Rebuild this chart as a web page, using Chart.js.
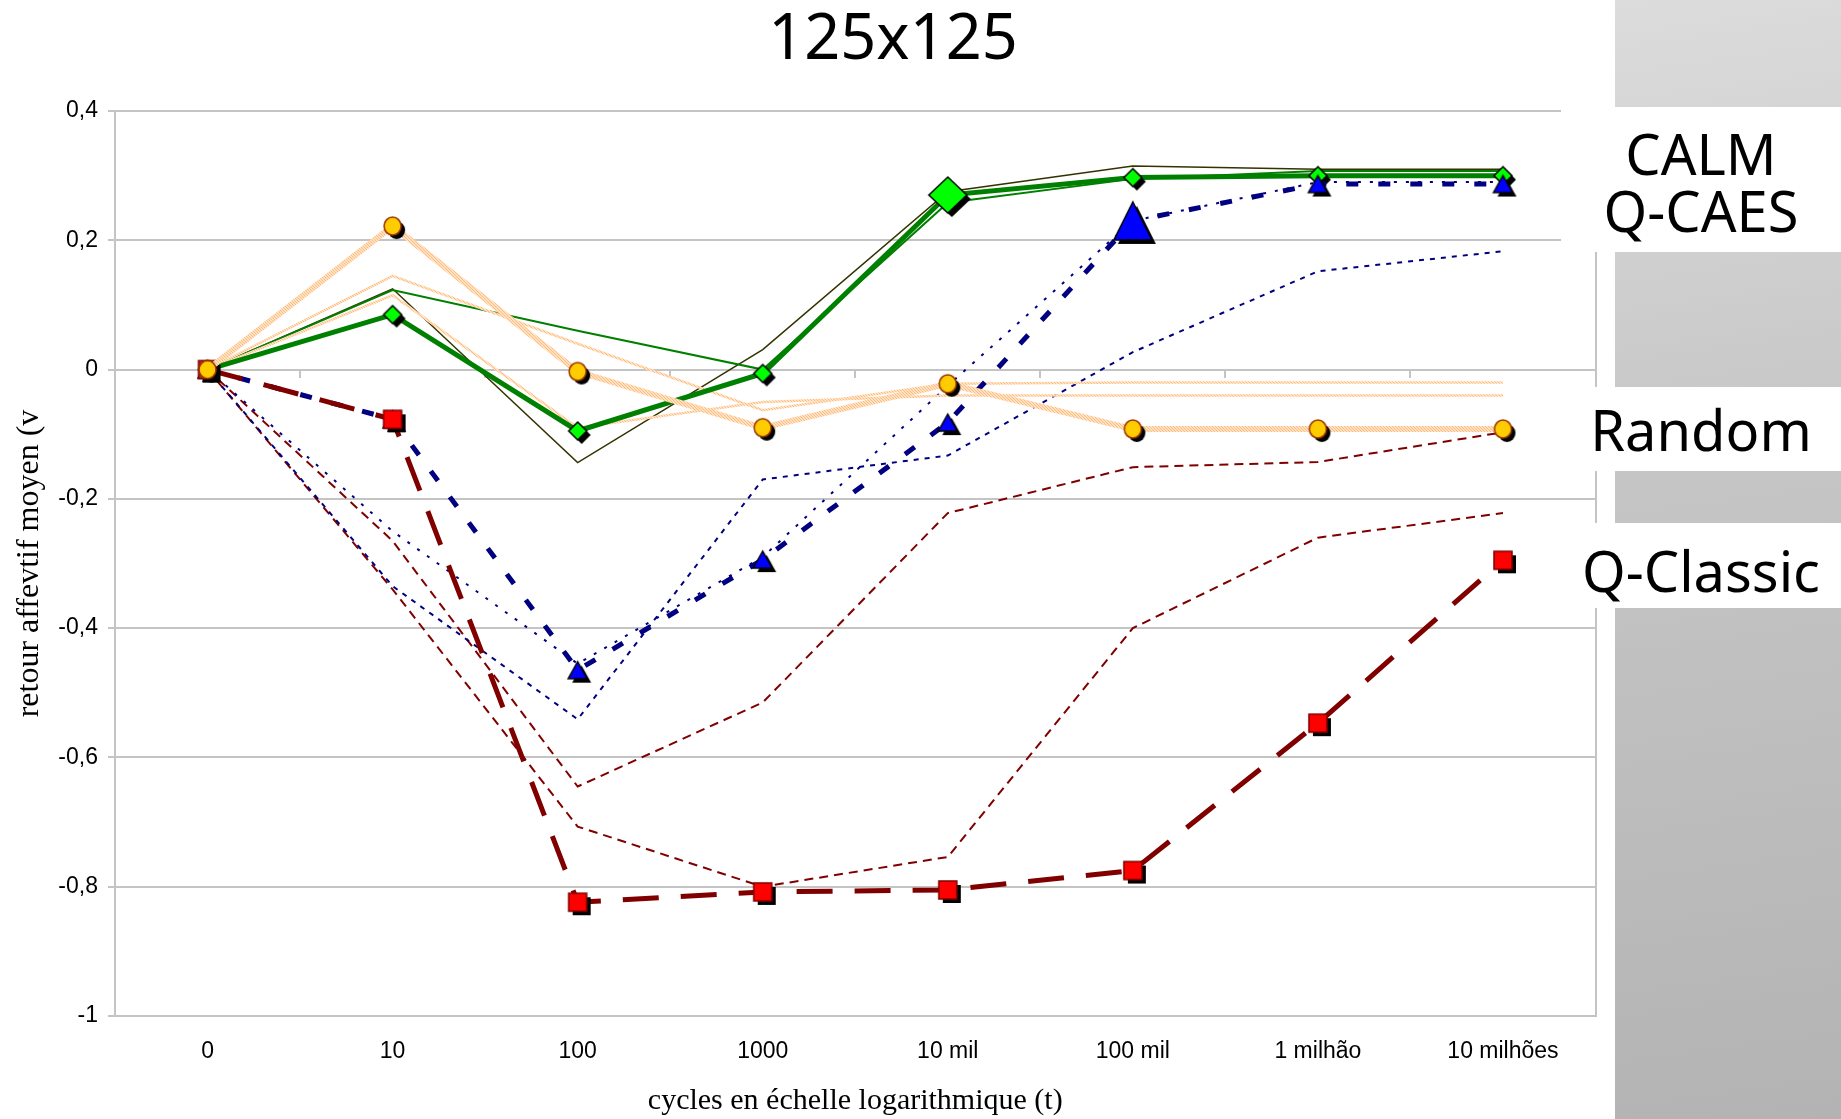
<!DOCTYPE html>
<html>
<head>
<meta charset="utf-8">
<script src="https://cdn.jsdelivr.net/npm/chart.js@4.4.1/dist/chart.umd.min.js"></script>
<style>
  html, body { margin: 0; padding: 0; background: #fff; }
  #wrap { position: relative; width: 1841px; height: 1119px; overflow: hidden; }
  #chart { position: absolute; left: 0; top: 0; }
  .panel { position: absolute; left: 1615px; top: 0; width: 226px; height: 1119px;
           background: linear-gradient(172deg, #dcdcdc 0%, #c6c6c6 40%, #b3b3b3 100%); }
  .box { position: absolute; background: #fff; }
  .lbl { position: absolute; left: 1561px; width: 280px; text-align: center;
         font-family: 'Noto Sans', sans-serif; font-size: 56px; line-height: 56px; color: #000; }
</style>
</head>
<body>
<div id="wrap">
  <canvas id="chart" width="1786" height="1119"></canvas>
  <div class="panel"></div>
  <div class="box" style="left:1561px;top:107px;width:280px;height:145px"></div>
  <div class="box" style="left:1590px;top:387px;width:251px;height:84px"></div>
  <div class="box" style="left:1580px;top:523px;width:261px;height:85px"></div>
  <div class="lbl" style="top:125px">CALM</div>
  <div class="lbl" style="top:182px">Q-CAES</div>
  <div class="lbl" style="top:401px">Random</div>
  <div class="lbl" style="top:542px">Q-Classic</div>
</div>
<script>
const categories = ['0', '10', '100', '1000', '10 mil', '100 mil', '1 milhão', '10 milhões'];
const yTickLabels = ['-1', '-0,8', '-0,6', '-0,4', '-0,2', '0', '0,2', '0,4'];

// CALM (green)
const calmMain = [0, 0.085, -0.095, -0.006, 0.27, 0.297, 0.30, 0.30];
const calmRunA = [0, 0.123, 0.06, 0.0, 0.258, 0.295, 0.307, 0.307];
const calmRunB = [0, 0.125, -0.144, 0.031, 0.275, 0.315, 0.31, 0.31];

// Q-CAES (blue)
const qcaesMain = [0, -0.077, -0.465, -0.294, -0.082, 0.23, 0.287, 0.287];
const qcaesRunA = [0, -0.25, -0.455, -0.29, -0.025, 0.23, 0.29, 0.29];
const qcaesRunB = [0, -0.335, -0.541, -0.17, -0.133, 0.027, 0.152, 0.183];

// Q-Classic (red)
const qclassicMain = [0, -0.077, -0.824, -0.808, -0.805, -0.775, -0.547, -0.295];
const qclassicRunA = [0, -0.265, -0.645, -0.515, -0.222, -0.151, -0.143, -0.097];
const qclassicRunB = [0, -0.34, -0.707, -0.80, -0.754, -0.40, -0.26, -0.222];

// Random (orange)
const randomMain = [0, 0.222, -0.003, -0.09, -0.022, -0.092, -0.092, -0.092];
const randomRunA = [0, 0.145, 0.04, -0.063, -0.022, -0.02, -0.02, -0.02];
const randomRunB = [0, 0.115, -0.09, -0.05, -0.04, -0.04, -0.04, -0.04];

// marker with a black drop shadow, drawn into a small canvas
function marker(shape, w, h, fill, stroke) {
    const off = 4, pad = 2;
    const c = document.createElement('canvas');
    c.width = Math.ceil(w + 2 * (off + pad));
    c.height = Math.ceil(h + 2 * (off + pad));
    const g = c.getContext('2d');
    const cx = c.width / 2, cy = c.height / 2;
    function path(x, y) {
        g.beginPath();
        if (shape === 'diamond') {
            g.moveTo(x, y - h / 2); g.lineTo(x + w / 2, y); g.lineTo(x, y + h / 2); g.lineTo(x - w / 2, y);
            g.closePath();
        } else if (shape === 'triangle') {
            g.moveTo(x, y - h / 2); g.lineTo(x + w / 2, y + h / 2); g.lineTo(x - w / 2, y + h / 2);
            g.closePath();
        } else if (shape === 'square') {
            g.rect(x - w / 2, y - h / 2, w, h);
        } else {
            g.ellipse(x, y, w / 2, h / 2, 0, 0, Math.PI * 2);
        }
    }
    path(cx + off, cy + off);
    g.fillStyle = '#000';
    g.fill();
    path(cx, cy);
    g.fillStyle = fill;
    g.fill();
    g.lineWidth = 1.5;
    g.strokeStyle = stroke;
    g.stroke();
    return c;
}

const diamond = marker('diamond', 18, 18, '#00ff00', '#000');
const bigDiamond = marker('diamond', 38, 36, '#00ff00', '#000');
const triangle = marker('triangle', 19, 17, '#0000ff', '#000');
const bigTriangle = marker('triangle', 38, 38, '#0000ff', '#000');
const square = marker('square', 18, 18, '#ff0000', '#800000');
const darkSquare = marker('square', 18, 18, '#b03020', '#800000');
const circle = marker('circle', 17, 18, '#ffcc00', '#993300');

const ctx = document.getElementById('chart').getContext('2d');

// speckled light orange stroke
function orangePattern() {
    const c = document.createElement('canvas');
    c.width = 3; c.height = 3;
    const g = c.getContext('2d');
    g.fillStyle = '#ffe2c2';
    g.fillRect(0, 0, 3, 3);
    g.fillStyle = '#ffbb80';
    g.fillRect(0, 0, 1, 1);
    g.fillRect(1, 1, 1, 1);
    g.fillRect(2, 2, 1, 1);
    return ctx.createPattern(c, 'repeat');
}
const orange = orangePattern();

const thin = { pointRadius: 0, tension: 0, borderCapStyle: 'butt' };

const data = {
    labels: categories,
    datasets: [
        {
            label: 'Random', data: randomMain, borderColor: orange, borderWidth: 6,
            pointStyle: circle, pointRadius: 6, tension: 0
        },
        {
            label: 'Q-Classic', data: qclassicMain, borderColor: '#800000', borderWidth: 5,
            borderDash: [36, 22], borderCapStyle: 'butt',
            pointStyle: [darkSquare, square, square, square, square, square, square, square],
            pointRadius: 6, tension: 0
        },
        {
            label: 'Q-CAES', data: qcaesMain, borderColor: '#000080', borderWidth: 5,
            borderDash: [12, 20], borderCapStyle: 'butt',
            pointStyle: [triangle, triangle, triangle, triangle, triangle, bigTriangle, triangle, triangle],
            pointRadius: 6, tension: 0
        },
        {
            label: 'CALM', data: calmMain, borderColor: '#008000', borderWidth: 5,
            pointStyle: [diamond, diamond, diamond, diamond, bigDiamond, diamond, diamond, diamond],
            pointRadius: 6, tension: 0
        },
        Object.assign({ data: randomRunA, borderColor: orange, borderWidth: 2.5 }, thin),
        Object.assign({ data: randomRunB, borderColor: orange, borderWidth: 2.5 }, thin),
        Object.assign({ data: calmRunA, borderColor: '#008000', borderWidth: 2 }, thin),
        Object.assign({ data: calmRunB, borderColor: '#333300', borderWidth: 1.5 }, thin),
        Object.assign({ data: qcaesRunA, borderColor: '#000080', borderWidth: 2, borderDash: [3, 9] }, thin),
        Object.assign({ data: qcaesRunB, borderColor: '#000080', borderWidth: 2, borderDash: [5, 6] }, thin),
        Object.assign({ data: qclassicRunA, borderColor: '#800000', borderWidth: 2, borderDash: [9, 6] }, thin),
        Object.assign({ data: qclassicRunB, borderColor: '#800000', borderWidth: 2, borderDash: [9, 6] }, thin)
    ]
};

const gridGray = '#c4c4c4';

const config = {
    type: 'line',
    data: data,
    options: {
        responsive: false,
        animation: false,
        events: [],
        devicePixelRatio: 1,
        layout: { padding: 0 },
        plugins: {
            legend: { display: false },
            tooltip: { enabled: false },
            title: {
                display: true,
                text: '125x125',
                color: '#000',
                font: { family: 'Noto Sans', size: 63, weight: 'normal' },
                padding: { top: 3, bottom: 32.4 }
            }
        },
        scales: {
            x: {
                type: 'category',
                offset: true,
                grid: { display: false },
                border: { display: false },
                ticks: {
                    color: '#000',
                    padding: 14,
                    maxRotation: 0,
                    autoSkip: false,
                    font: { family: 'Liberation Sans', size: 23 }
                },
                title: {
                    display: true,
                    text: 'cycles en échelle logarithmique (t)',
                    color: '#000',
                    font: { family: 'Liberation Serif', size: 30 },
                    padding: { top: 0, bottom: 0 }
                },
                afterFit: function (scale) { scale.height = 103; }
            },
            x2: {
                type: 'category',
                labels: categories,
                position: { y: 0 },
                offset: true,
                grid: { offset: true, drawOnChartArea: false, drawTicks: true, tickLength: 7, color: gridGray, lineWidth: 2 },
                border: { display: true, color: gridGray, width: 2 },
                ticks: { display: false }
            },
            y: {
                min: -1,
                max: 0.4,
                ticks: {
                    stepSize: 0.2,
                    padding: 10,
                    color: '#000',
                    font: { family: 'Liberation Sans', size: 23 },
                    callback: function (value, index) { return yTickLabels[index]; }
                },
                grid: { color: gridGray, lineWidth: 2, tickLength: 7, drawTicks: true },
                border: { display: true, color: gridGray, width: 2 },
                title: {
                    display: true,
                    text: 'retour affevtif moyen (v',
                    color: '#000',
                    font: { family: 'Liberation Serif', size: 32 },
                    padding: { top: 10, bottom: 0 }
                },
                afterFit: function (scale) { scale.width = 115; }
            },
            yRight: {
                position: 'right',
                min: -1,
                max: 0.4,
                grid: { display: false },
                border: { display: true, color: gridGray, width: 2 },
                ticks: { display: false },
                afterFit: function (scale) { scale.width = 190.5; }
            }
        }
    }
};

new Chart(ctx, config);
</script>
</body>
</html>
